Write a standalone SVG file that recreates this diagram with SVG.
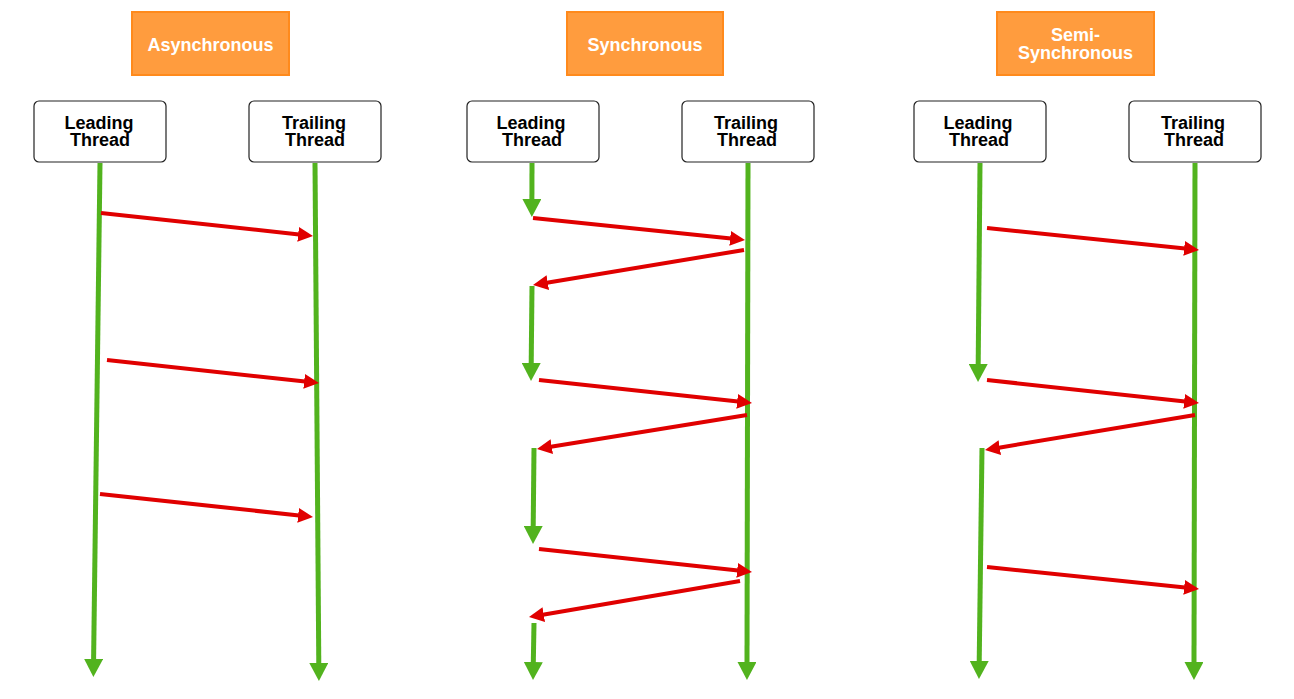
<svg xmlns="http://www.w3.org/2000/svg" width="1294" height="699" viewBox="0 0 1294 699">
<style>
.title rect{fill:#ff9c3e;stroke:#ff8a1c;stroke-width:2}
.title text{fill:#fff;font-family:"Liberation Sans",Arial,sans-serif;font-weight:bold;font-size:18px;text-anchor:middle}
.thread rect{fill:#fff;stroke:#222;stroke-width:1.2}
.thread text{fill:#000;font-family:"Liberation Sans",Arial,sans-serif;font-weight:bold;font-size:18px;text-anchor:middle}
.g{stroke:#52b31e;stroke-width:5;fill:none;marker-end:url(#gh)}
.r{stroke:#e00000;stroke-width:4;fill:none;marker-end:url(#rh)}
</style>
<defs>
<marker id="gh" markerUnits="userSpaceOnUse" viewBox="0 0 18 19" refX="1" refY="9.5" markerWidth="18" markerHeight="19" orient="auto">
<path d="M0,0 L18,9.5 L0,19 z" fill="#52b31e"/>
</marker>
<marker id="rh" markerUnits="userSpaceOnUse" viewBox="0 0 15 15" refX="1" refY="7.5" markerWidth="15" markerHeight="15" orient="auto">
<path d="M0,0 L15,7.5 L0,15 z" fill="#e00000"/>
</marker>
</defs>
<rect width="1294" height="699" fill="#fff"/>

<g id="title-async" class="title"><rect x="132" y="12" width="157" height="63"/><text x="210.5" y="50.5">Asynchronous</text></g>
<g id="title-sync" class="title"><rect x="567" y="12" width="156" height="63"/><text x="645" y="50.5">Synchronous</text></g>
<g id="title-semi" class="title"><rect x="997" y="12" width="157" height="63"/><text x="1075.5" y="41">Semi-</text><text x="1075.5" y="59">Synchronous</text></g>

<g id="async-leading" class="thread"><rect x="34" y="101" width="132" height="61" rx="5"/><text x="99" y="128.5">Leading</text><text x="100" y="145.5">Thread</text></g>
<g id="async-trailing" class="thread"><rect x="249" y="101" width="132" height="61" rx="5"/><text x="314" y="128.5">Trailing</text><text x="315" y="145.5">Thread</text></g>
<g id="sync-leading" class="thread"><rect x="467" y="101" width="132" height="61" rx="5"/><text x="531" y="128.5">Leading</text><text x="532" y="145.5">Thread</text></g>
<g id="sync-trailing" class="thread"><rect x="682" y="101" width="132" height="61" rx="5"/><text x="746" y="128.5">Trailing</text><text x="747" y="145.5">Thread</text></g>
<g id="semi-leading" class="thread"><rect x="914" y="101" width="132" height="61" rx="5"/><text x="978" y="128.5">Leading</text><text x="979" y="145.5">Thread</text></g>
<g id="semi-trailing" class="thread"><rect x="1129" y="101" width="132" height="61" rx="5"/><text x="1193" y="128.5">Trailing</text><text x="1194" y="145.5">Thread</text></g>

<g id="connectors">
<!-- Asynchronous -->
<line class="g" x1="100" y1="163" x2="93.6" y2="660"/>
<line class="g" x1="315" y1="163" x2="318.8" y2="664"/>
<line class="r" x1="101" y1="213" x2="299.1" y2="234.5"/>
<line class="r" x1="107" y1="360" x2="305.1" y2="381.5"/>
<line class="r" x1="100" y1="494" x2="299.1" y2="515.5"/>

<!-- Synchronous -->
<line class="g" x1="532" y1="163" x2="531.9" y2="200"/>
<line class="g" x1="532" y1="286" x2="531.2" y2="364"/>
<line class="g" x1="534" y1="448" x2="533.2" y2="527"/>
<line class="g" x1="534" y1="623" x2="533.3" y2="663"/>
<line class="g" x1="748" y1="163" x2="747" y2="663"/>
<line class="r" x1="533" y1="218" x2="731.1" y2="238.5"/>
<line class="r" x1="744" y1="250" x2="546.8" y2="282.7"/>
<line class="r" x1="539" y1="380" x2="738.1" y2="401.5"/>
<line class="r" x1="747" y1="415" x2="550.8" y2="446.8"/>
<line class="r" x1="539" y1="549" x2="738.1" y2="570.5"/>
<line class="r" x1="740" y1="581" x2="542.8" y2="614.7"/>

<!-- Semi-Synchronous -->
<line class="g" x1="980" y1="163" x2="978.2" y2="365"/>
<line class="g" x1="982" y1="448" x2="979.2" y2="662"/>
<line class="g" x1="1195" y1="163" x2="1194" y2="663"/>
<line class="r" x1="987" y1="228" x2="1185.1" y2="248.5"/>
<line class="r" x1="987" y1="380" x2="1185.1" y2="401.5"/>
<line class="r" x1="1195" y1="415" x2="998.8" y2="447.7"/>
<line class="r" x1="987" y1="567" x2="1185.1" y2="587.5"/>
</g>
</svg>
